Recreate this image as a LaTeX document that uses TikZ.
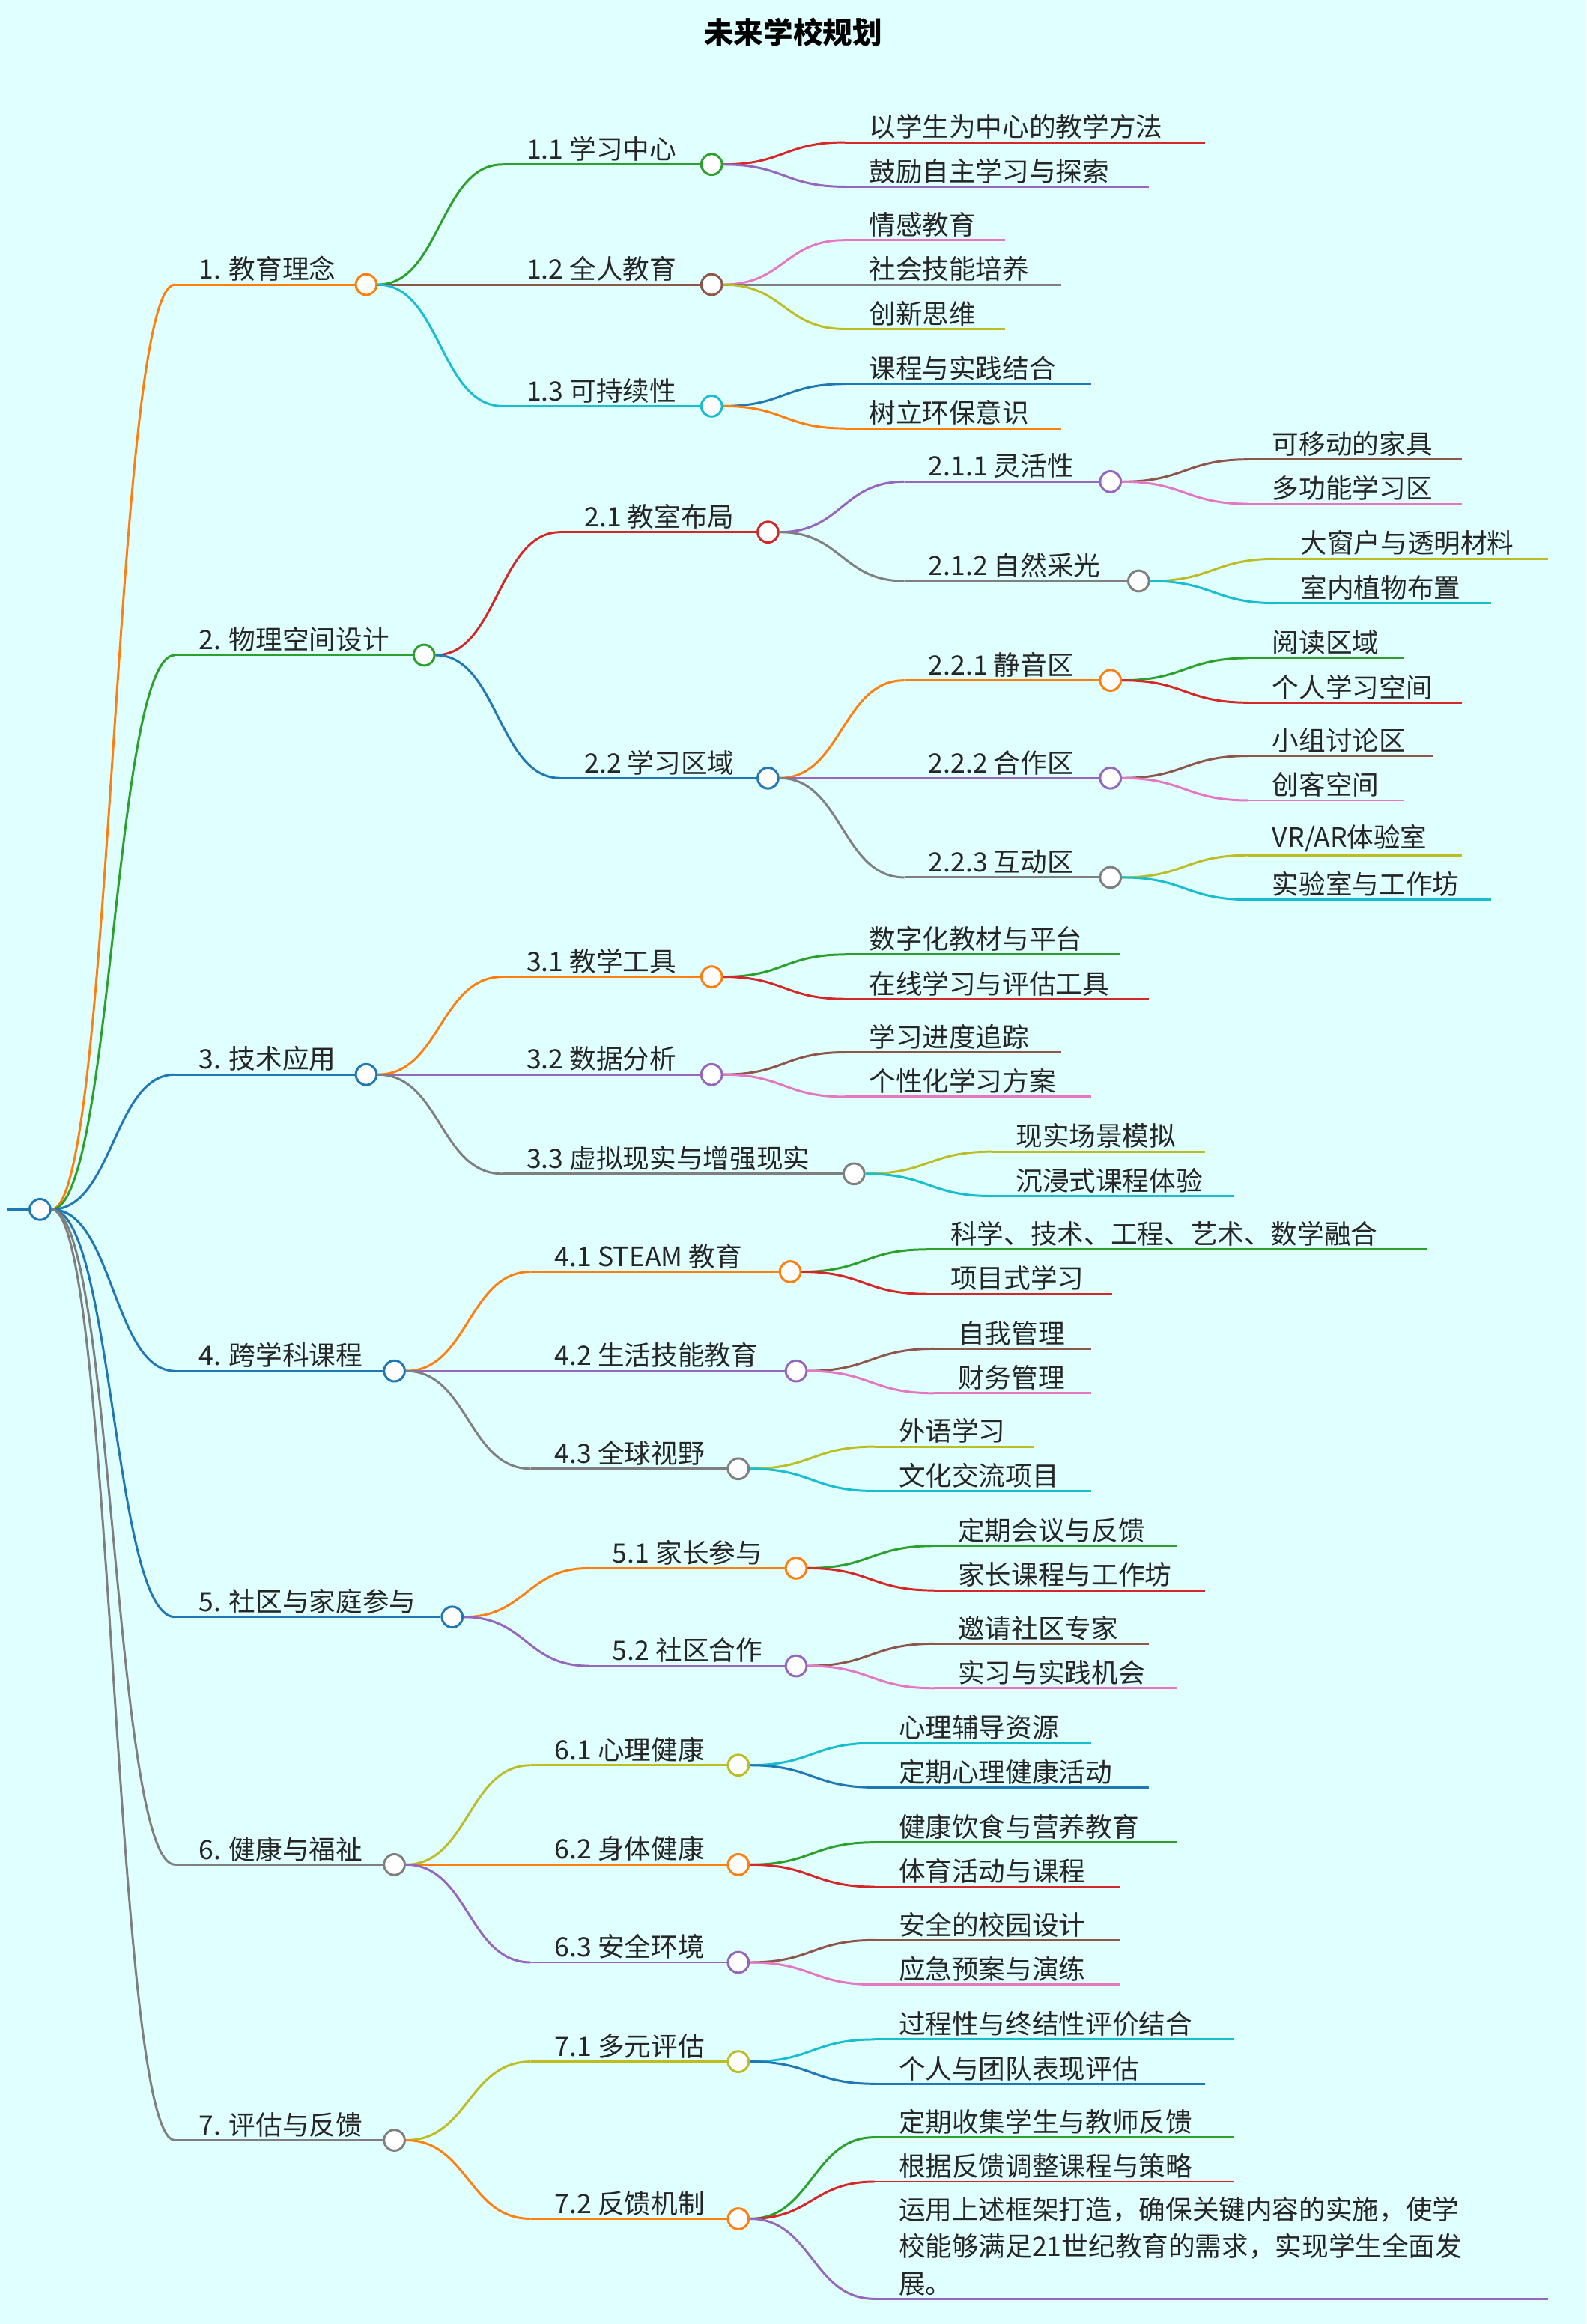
\documentclass[tikz,border=0pt]{standalone}
\usepackage{fontspec}
\setmainfont{Noto Sans CJK SC}
\usetikzlibrary{calc}
\definecolor{bg}{HTML}{E0FFFF}
\definecolor{cO}{HTML}{FF7F0E}\definecolor{cG}{HTML}{2CA02C}\definecolor{cB}{HTML}{1F77B4}
\definecolor{cR}{HTML}{D62728}\definecolor{cP}{HTML}{9467BD}\definecolor{cN}{HTML}{8C564B}
\definecolor{cK}{HTML}{E377C2}\definecolor{cY}{HTML}{7F7F7F}\definecolor{cV}{HTML}{BCBD22}
\definecolor{cC}{HTML}{17BECF}
\tikzset{ln/.style={line width=1.5pt},circ/.style={circle,minimum size=14pt,inner sep=0pt,fill=white,line width=1.5pt},
txt/.style={font=\fontsize{18}{22}\selectfont,text=black!85,inner sep=1pt,anchor=south west}}
\newcommand{\conn}[3]{\draw[ln,#3] let \p1=(#1.east), \p2=(#2) in (\p1) .. controls ({(\x1+\x2)/2},\y1) and ({(\x1+\x2)/2},\y2) .. (\p2);}
\newcommand{\inn}[7]{%
 \coordinate (#2s) at (#3,-#4);
 \node[circ,draw=#6] (#2) at (#5,-#4) {};
 \conn{#1}{#2s}{#6}
 \draw[ln,#6] (#2s) -- (#2.west);
 \node[txt] (#2t) at (#3+15,-#4+1) {#7};}
\newcommand{\leaf}[7]{%
 \coordinate (#2s) at (#3,-#4);
 \coordinate (#2) at (#5,-#4);
 \conn{#1}{#2s}{#6}
 \draw[ln,#6] (#2s) -- (#2);
 \node[txt] (#2t) at (#3+15,-#4+1) {#7};}
\begin{document}
\begin{tikzpicture}[x=1pt,y=1pt]
\fill[bg] (0,0) rectangle (1070,-1568);
\useasboundingbox (0,0) rectangle (1070,-1568);
\node[font=\fontsize{20}{24}\selectfont\bfseries] (title) at (535,-22) {未来学校规划};
\coordinate (r0) at (5,-816);
\node[circ,draw=cB] (r) at (27,-816) {};
\draw[ln,cB] (r0) -- (r.west);
% level 1
\inn{r}{a}{118}{192}{247}{cO}{1. 教育理念}
\inn{r}{b}{118}{442}{286}{cG}{2. 物理空间设计}
\inn{r}{c}{118}{725}{247}{cB}{3. 技术应用}
\inn{r}{d}{118}{925}{266}{cB}{4. 跨学科课程}
\inn{r}{e}{118}{1091}{305}{cB}{5. 社区与家庭参与}
\inn{r}{f}{118}{1258}{266}{cY}{6. 健康与福祉}
\inn{r}{g}{118}{1444}{266}{cY}{7. 评估与反馈}
% 1
\inn{a}{a1}{339}{111}{480}{cG}{1.1 学习中心}
\inn{a}{a2}{339}{192}{480}{cN}{1.2 全人教育}
\inn{a}{a3}{339}{274}{480}{cC}{1.3 可持续性}
\leaf{a1}{a11}{570}{96}{813}{cR}{以学生为中心的教学方法}
\leaf{a1}{a12}{570}{126}{775}{cP}{鼓励自主学习与探索}
\leaf{a2}{a21}{570}{162}{678}{cK}{情感教育}
\leaf{a2}{a22}{570}{192}{716}{cY}{社会技能培养}
\leaf{a2}{a23}{570}{222}{678}{cV}{创新思维}
\leaf{a3}{a31}{570}{259}{736}{cB}{课程与实践结合}
\leaf{a3}{a32}{570}{289}{716}{cO}{树立环保意识}
% 2
\inn{b}{b1}{378}{359}{518}{cR}{2.1 教室布局}
\inn{b}{b2}{378}{525}{518}{cB}{2.2 学习区域}
\inn{b1}{b11}{610}{325}{749}{cP}{2.1.1 灵活性}
\inn{b1}{b12}{610}{392}{768}{cY}{2.1.2 自然采光}
\inn{b2}{b21}{610}{459}{749}{cO}{2.2.1 静音区}
\inn{b2}{b22}{610}{525}{749}{cP}{2.2.2 合作区}
\inn{b2}{b23}{610}{592}{749}{cY}{2.2.3 互动区}
\leaf{b11}{b111}{842}{310}{986}{cN}{可移动的家具}
\leaf{b11}{b112}{842}{340}{986}{cK}{多功能学习区}
\leaf{b12}{b121}{861}{377}{1044}{cV}{大窗户与透明材料}
\leaf{b12}{b122}{861}{407}{1006}{cC}{室内植物布置}
\leaf{b21}{b211}{842}{444}{947}{cG}{阅读区域}
\leaf{b21}{b212}{842}{474}{986}{cR}{个人学习空间}
\leaf{b22}{b221}{842}{510}{967}{cN}{小组讨论区}
\leaf{b22}{b222}{842}{540}{947}{cK}{创客空间}
\leaf{b23}{b231}{842}{577}{986}{cV}{VR/AR体验室}
\leaf{b23}{b232}{842}{607}{1006}{cC}{实验室与工作坊}
% 3
\inn{c}{c1}{339}{659}{480}{cO}{3.1 教学工具}
\inn{c}{c2}{339}{725}{480}{cP}{3.2 数据分析}
\inn{c}{c3}{339}{792}{576}{cY}{3.3 虚拟现实与增强现实}
\leaf{c1}{c11}{570}{644}{755}{cG}{数字化教材与平台}
\leaf{c1}{c12}{570}{674}{775}{cR}{在线学习与评估工具}
\leaf{c2}{c21}{570}{710}{716}{cN}{学习进度追踪}
\leaf{c2}{c22}{570}{740}{736}{cK}{个性化学习方案}
\leaf{c3}{c31}{669}{777}{813}{cV}{现实场景模拟}
\leaf{c3}{c32}{669}{807}{832}{cC}{沉浸式课程体验}
% 4
\inn{d}{d1}{358}{858}{533}{cO}{4.1 STEAM 教育}
\inn{d}{d2}{358}{925}{537}{cP}{4.2 生活技能教育}
\inn{d}{d3}{358}{991}{498}{cY}{4.3 全球视野}
\leaf{d1}{d11}{625}{843}{963}{cG}{科学、技术、工程、艺术、数学融合}
\leaf{d1}{d12}{625}{873}{750}{cR}{项目式学习}
\leaf{d2}{d21}{630}{910}{736}{cN}{自我管理}
\leaf{d2}{d22}{630}{940}{736}{cK}{财务管理}
\leaf{d3}{d31}{590}{976}{697}{cV}{外语学习}
\leaf{d3}{d32}{590}{1006}{736}{cC}{文化交流项目}
% 5
\inn{e}{e1}{397}{1058}{537}{cO}{5.1 家长参与}
\inn{e}{e2}{397}{1124}{537}{cP}{5.2 社区合作}
\leaf{e1}{e11}{630}{1043}{794}{cG}{定期会议与反馈}
\leaf{e1}{e12}{630}{1073}{813}{cR}{家长课程与工作坊}
\leaf{e2}{e21}{630}{1109}{775}{cN}{邀请社区专家}
\leaf{e2}{e22}{630}{1139}{794}{cK}{实习与实践机会}
% 6
\inn{f}{f1}{358}{1191}{498}{cV}{6.1 心理健康}
\inn{f}{f2}{358}{1258}{498}{cO}{6.2 身体健康}
\inn{f}{f3}{358}{1324}{498}{cP}{6.3 安全环境}
\leaf{f1}{f11}{590}{1176}{736}{cC}{心理辅导资源}
\leaf{f1}{f12}{590}{1206}{775}{cB}{定期心理健康活动}
\leaf{f2}{f21}{590}{1243}{794}{cG}{健康饮食与营养教育}
\leaf{f2}{f22}{590}{1273}{755}{cR}{体育活动与课程}
\leaf{f3}{f31}{590}{1309}{755}{cN}{安全的校园设计}
\leaf{f3}{f32}{590}{1339}{755}{cK}{应急预案与演练}
% 7
\inn{g}{g1}{358}{1391}{498}{cV}{7.1 多元评估}
\inn{g}{g2}{358}{1497}{498}{cO}{7.2 反馈机制}
\leaf{g1}{g11}{590}{1376}{832}{cC}{过程性与终结性评价结合}
\leaf{g1}{g12}{590}{1406}{813}{cB}{个人与团队表现评估}
\leaf{g2}{g21}{590}{1442}{832}{cG}{定期收集学生与教师反馈}
\leaf{g2}{g22}{590}{1472}{832}{cR}{根据反馈调整课程与策略}
\coordinate (g23s) at (590,-1551);
\coordinate (g23) at (1044,-1551);
\conn{g2}{g23s}{cP}
\draw[ln,cP] (g23s) -- (g23);
\node[txt,align=left,font=\fontsize{18}{25}\selectfont] (g23t) at (605,-1550) {运用上述框架打造，确保关键内容的实施，使学\\校能够满足21世纪教育的需求，实现学生全面发\\展。};
\end{tikzpicture}
\end{document}
